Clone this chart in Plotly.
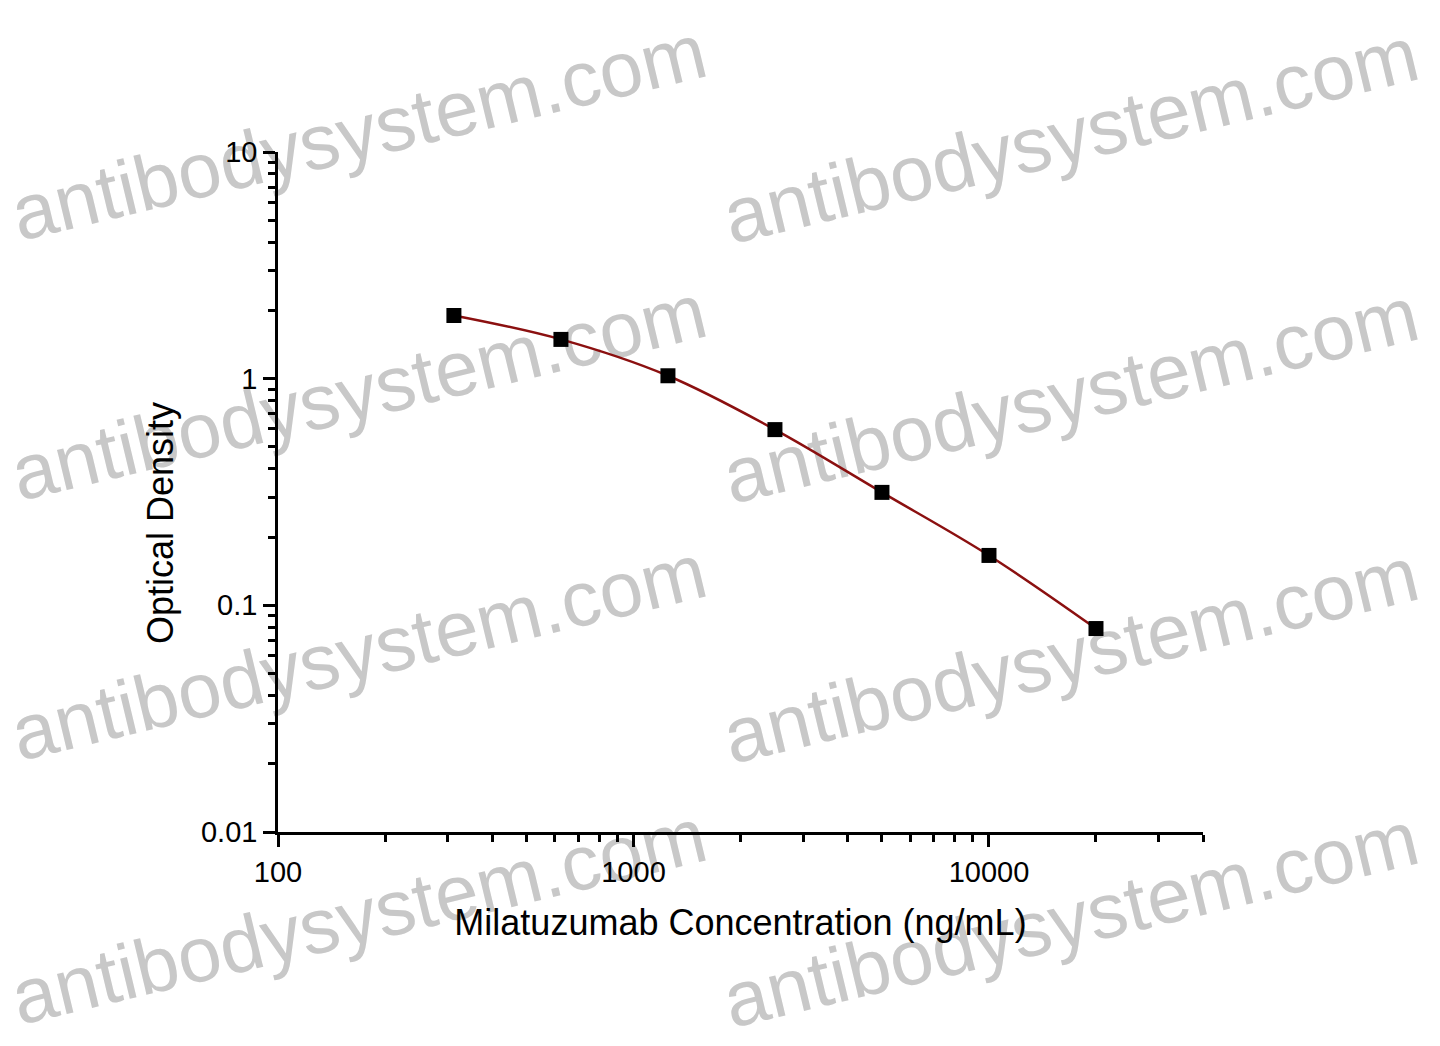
import math
import plotly.graph_objects as go

# ---------- data ----------
concentration = [312.5, 625, 1250, 2500, 5000, 10000, 20000]  # ng/mL
optical_density = [1.90, 1.49, 1.03, 0.596, 0.315, 0.166, 0.079]

x_tickvals = [100, 1000, 10000]
x_ticktext = ["100", "1000", "10000"]
x_minor = [200, 300, 400, 500, 600, 700, 800, 900,
           2000, 3000, 4000, 5000, 6000, 7000, 8000, 9000,
           20000, 30000, 40000]
y_tickvals = [0.01, 0.1, 1, 10]
y_ticktext = ["0.01", "0.1", "1", "10"]
y_minor = [0.02, 0.03, 0.04, 0.05, 0.06, 0.07, 0.08, 0.09,
           0.2, 0.3, 0.4, 0.5, 0.6, 0.7, 0.8, 0.9,
           2, 3, 4, 5, 6, 7, 8, 9]

watermark = "antibodysystem.com"
# watermark centres on the page, pixels
wm_centers_px = [(368, 171), (1080, 174),
                 (368, 431), (1080, 434),
                 (368, 691), (1080, 694),
                 (368, 955), (1080, 958)]

FONT = "Liberation Sans, Arial, sans-serif"

# plot area on the page (pixels) -- page body adds 8px offset
PX0, PX1, PY0, PY1 = 278, 1203, 152, 832
OFF = 8
W, H = 1440, 1046


def to_paper(px, py):
    return (px - PX0) / (PX1 - PX0), (PY1 - py) / (PY1 - PY0)


fig = go.Figure()

# fitted curve
fig.add_trace(go.Scatter(
    x=concentration, y=optical_density, mode="lines",
    line=dict(color="#8b1010", width=2.5, shape="spline", smoothing=1.0),
    hoverinfo="skip", showlegend=False))

# standards
fig.add_trace(go.Scatter(
    x=concentration, y=optical_density, mode="markers",
    marker=dict(symbol="square", size=15, color="black"),
    showlegend=False))

# watermark text under the data (shape labels on the layer below)
ang = math.radians(13.5)
dx, dy = 300 * math.cos(ang), 300 * math.sin(ang)
for cx, cy in wm_centers_px:
    x0, y0 = to_paper(cx - dx, cy + dy)
    x1, y1 = to_paper(cx + dx, cy - dy)
    fig.add_shape(
        type="line", xref="paper", yref="paper",
        x0=x0, y0=y0, x1=x1, y1=y1,
        line=dict(width=0, color="rgba(0,0,0,0)"), layer="below",
        label=dict(text=watermark, textposition="middle",
                   font=dict(family=FONT, size=78, color="#c8c8c8")))

# y title, placed a little below the middle as in the original
tx, ty = to_paper(160, 523)
fig.add_annotation(
    text="Optical Density", xref="paper", yref="paper", x=tx, y=ty,
    textangle=-90, showarrow=False, xanchor="center", yanchor="middle",
    font=dict(family=FONT, size=36, color="black"))

fig.update_layout(
    width=W, height=H,
    margin=dict(l=PX0 - OFF, r=W - (PX1 - OFF), t=PY0 - OFF, b=H - (PY1 - OFF)),
    paper_bgcolor="white", plot_bgcolor="rgba(0,0,0,0)",
    font=dict(family=FONT, color="black"),
)

fig.update_xaxes(
    type="log", range=[2, math.log10(40000)],
    showgrid=False, zeroline=False,
    showline=True, linecolor="black", linewidth=2.5,
    ticks="outside", ticklen=12, tickwidth=2.5, tickcolor="black",
    tickvals=x_tickvals, ticktext=x_ticktext,
    tickfont=dict(size=29),
    minor=dict(tickvals=x_minor, ticks="outside", ticklen=7,
               tickwidth=2.5, tickcolor="black", showgrid=False),
    title=dict(text="Milatuzumab Concentration (ng/mL)",
               font=dict(size=36), standoff=24),
)

fig.update_yaxes(
    type="log", range=[-2, 1],
    showgrid=False, zeroline=False,
    showline=True, linecolor="black", linewidth=2.5,
    ticks="outside", ticklen=12, tickwidth=2.5, tickcolor="black",
    tickvals=y_tickvals, ticktext=y_ticktext,
    tickfont=dict(size=29),
    minor=dict(tickvals=y_minor, ticks="outside", ticklen=7,
               tickwidth=2.5, tickcolor="black", showgrid=False),
)

fig.write_html("out.html")
